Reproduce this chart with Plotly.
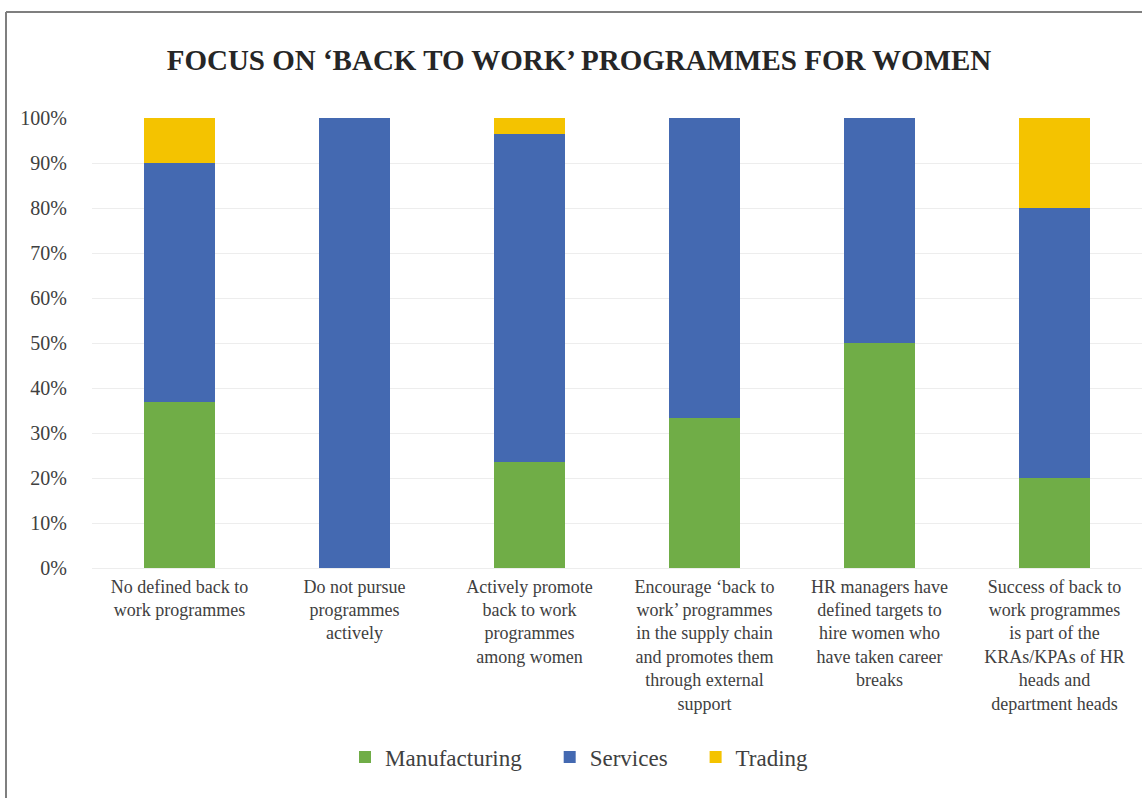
import plotly.graph_objects as go

categories = [
    "No defined back to<br>work programmes",
    "Do not pursue<br>programmes<br>actively",
    "Actively promote<br>back to work<br>programmes<br>among women",
    "Encourage ‘back to<br>work’ programmes<br>in the supply chain<br>and promotes them<br>through external<br>support",
    "HR managers have<br>defined targets to<br>hire women who<br>have taken career<br>breaks",
    "Success of back to<br>work programmes<br>is part of the<br>KRAs/KPAs of HR<br>heads and<br>department heads",
]
series_names = ["Manufacturing", "Services", "Trading"]
manufacturing = [0.37, 0.0, 0.236, 0.333, 0.50, 0.20]
services = [0.53, 1.0, 0.728, 0.667, 0.50, 0.60]
trading = [0.10, 0.0, 0.036, 0.0, 0.0, 0.20]

FONT = "Liberation Serif"
PAD = "\u00a0" * 4
fig = go.Figure()
fig.add_trace(go.Bar(name=series_names[0] + PAD, x=categories, y=manufacturing, marker_color="#70AD47", marker_line_width=0))
fig.add_trace(go.Bar(name=series_names[1] + PAD, x=categories, y=services, marker_color="#4469B1", marker_line_width=0))
fig.add_trace(go.Bar(name=series_names[2], x=categories, y=trading, marker_color="#F4C300", marker_line_width=0))

W, H = 1142, 798
PL, PR, PT, PB = 92, 1142, 118, 568
L, T = PL, PT
R = W - PR
B = H - PB
pw = W - L - R
ph = H - T - B
def px(x):
    return (x - L) / pw
def py(y):
    return (PB - y) / ph

fig.update_layout(
    barmode="stack",
    bargap=0.595,
    width=W, height=H,
    margin=dict(l=L, r=R, t=T, b=B, autoexpand=False),
    paper_bgcolor="white", plot_bgcolor="white",
    font=dict(family=FONT, color="#404040", size=18),
    title=dict(text="<b>FOCUS ON ‘BACK TO WORK’ PROGRAMMES FOR WOMEN</b>",
               x=579 / W, xanchor="center", xref="container",
               y=1 - 60 / H, yanchor="middle", yref="container",
               font=dict(family=FONT, size=29, color="#262626")),
    xaxis=dict(showgrid=False, showline=True, linecolor="#EDEDED", linewidth=1,
               ticks="", tickfont=dict(size=18, color="#404040"), ticklabelstandoff=2),
    yaxis=dict(range=[0, 1], tickformat=".0%", dtick=0.1, showgrid=True,
               gridcolor="#EDEDED", gridwidth=1, zeroline=False,
               tickfont=dict(size=20, color="#404040"), ticks="", ticklabelstandoff=24),
    legend=dict(orientation="h", x=579.5 / W, xref="container", xanchor="center",
                y=1 - 757 / H, yref="container", yanchor="middle",
                font=dict(size=23, color="#404040"), itemwidth=30,
                traceorder="normal"),
    shapes=[
        dict(type="line", xref="paper", yref="paper", x0=px(6), x1=px(1160), y0=py(12), y1=py(12),
             line=dict(color="#7F7F7F", width=2)),
        dict(type="line", xref="paper", yref="paper", x0=px(6), x1=px(6), y0=py(12), y1=py(820),
             line=dict(color="#7F7F7F", width=2)),
    ],
)
fig.write_html("out.html", config={"displayModeBar": False},
               post_script="document.body.style.margin='0';")
